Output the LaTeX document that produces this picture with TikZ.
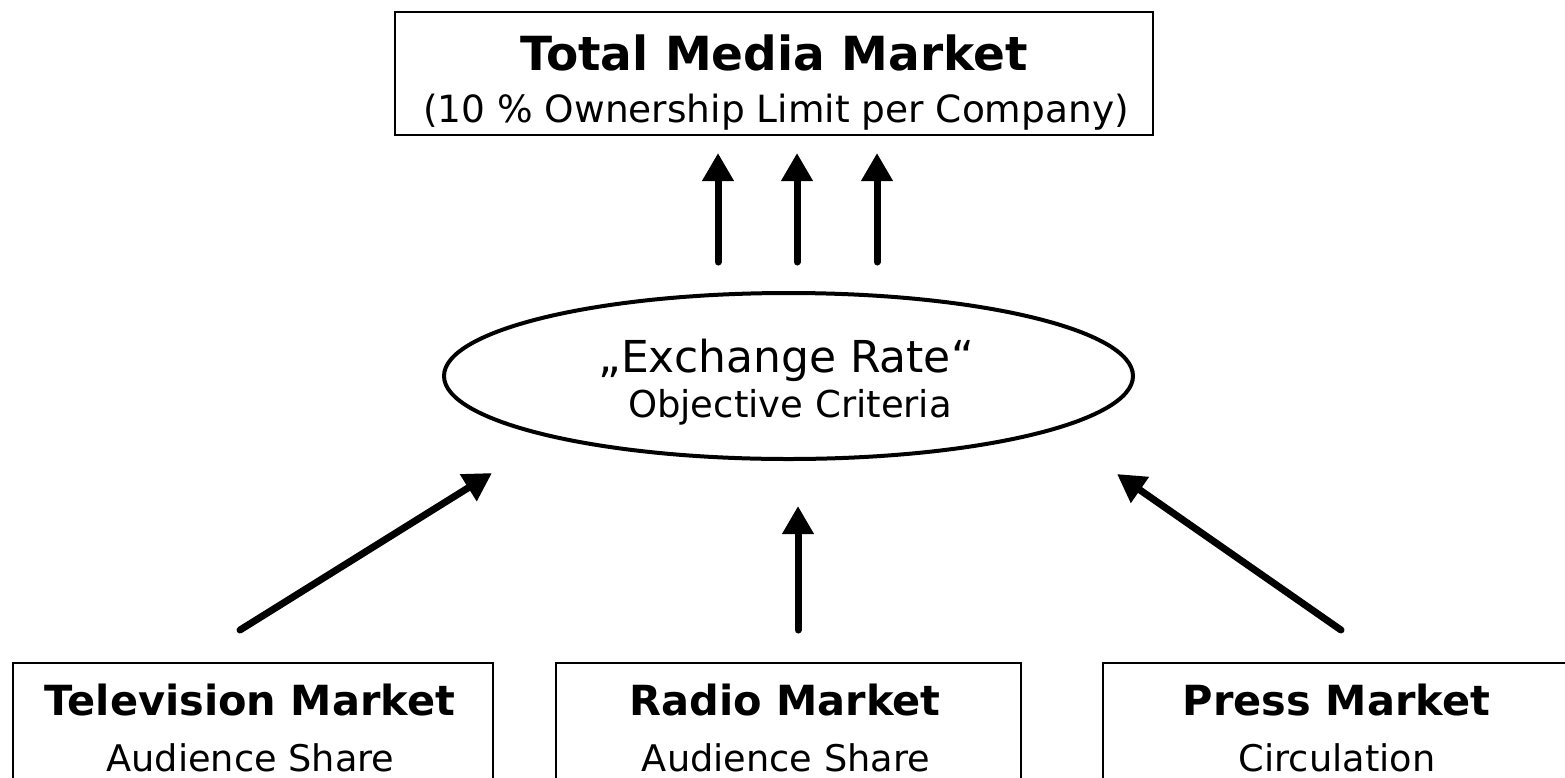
\documentclass[tikz,border=0pt]{standalone}
\usepackage{fontspec}
\setmainfont{DejaVu Sans}
\usetikzlibrary{arrows.meta,shapes.geometric}

\begin{document}
\begin{tikzpicture}[x=1pt,y=-1pt,
  box/.style={draw, rectangle, line width=2pt, inner sep=0pt},
  lbl/.style={anchor=base, inner sep=0pt},
  headA/.style={lbl, font=\fontsize{47}{56}\selectfont\bfseries},
  subA/.style={lbl, font=\fontsize{37.5}{45}\selectfont},
  headB/.style={lbl, font=\fontsize{41.5}{50}\selectfont\bfseries},
  subB/.style={lbl, font=\fontsize{36.7}{44}\selectfont},
  arr/.style={line width=7pt, line cap=round, -{Triangle[width=30pt,length=28pt]}}
]
\useasboundingbox (0,0) rectangle (1565,777);

% overall market box
\node[box, minimum width=758pt, minimum height=123pt] (total) at (774,73.5) {};
\node[headA] (totalT) at (774,70) {Total Media Market};
\node[subA] (totalS) at (776,122) {(10 \% Ownership Limit per Company)};

% conversion ellipse
\node[draw, ellipse, line width=4pt, inner sep=0pt,
      minimum width=689pt, minimum height=166pt] (rate) at (788.5,376) {};
\node[lbl, font=\fontsize{44}{52}\selectfont] (rateT) at (786,372) {„Exchange Rate“};
\node[lbl, font=\fontsize{37}{44}\selectfont] (rateS) at (790,417) {Objective Criteria};

% individual markets
\node[box, minimum width=480pt, minimum height=137pt] (tv) at (253,731.5) {};
\node[headB] (tvT) at (250,715) {Television Market};
\node[subB] (tvS) at (250.5,771) {Audience Share};

\node[box, minimum width=465pt, minimum height=137pt] (radio) at (788.5,731.5) {};
\node[headB] (radioT) at (785,715) {Radio Market};
\node[subB] (radioS) at (786,771) {Audience Share};

\node[box, minimum width=472pt, minimum height=137pt] (press) at (1339,731.5) {};
\node[headB] (pressT) at (1336.5,715) {Press Market};
\node[subB] (pressS) at (1337,771) {Circulation};

% arrow end points
\coordinate (up1s) at (718,262);  \coordinate (up1e) at (718,153);
\coordinate (up2s) at (797,262);  \coordinate (up2e) at (797,153);
\coordinate (up3s) at (877,262);  \coordinate (up3e) at (877,153);
\coordinate (tvs)  at (240,630);  \coordinate (tve)  at (492,473);
\coordinate (rds)  at (798,630);  \coordinate (rde)  at (798,506);
\coordinate (prs)  at (1341,630); \coordinate (pre)  at (1117,474);

\draw[arr] (up1s) -- (up1e);
\draw[arr] (up2s) -- (up2e);
\draw[arr] (up3s) -- (up3e);
\draw[arr] (tvs) -- (tve);
\draw[arr] (rds) -- (rde);
\draw[arr] (prs) -- (pre);
\end{tikzpicture}
\end{document}
